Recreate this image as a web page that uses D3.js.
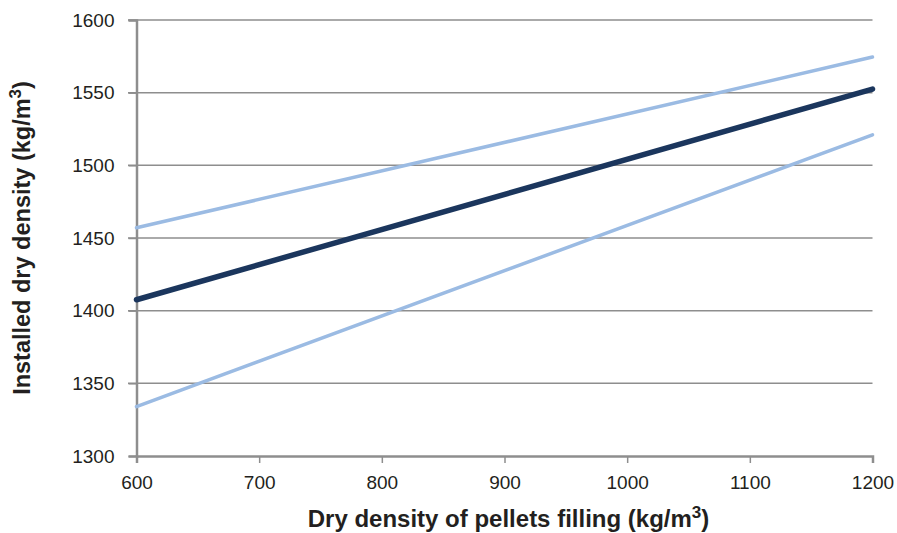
<!DOCTYPE html>
<html><head><meta charset="utf-8">
<script src="https://cdn.jsdelivr.net/npm/d3@7"></script>
<style>body{margin:0;background:#fff}svg{display:block}text{font-family:"Liberation Sans",Arial,sans-serif;fill:#231f20}</style>
</head><body><svg id="c" width="897" height="533"></svg>
<script>
const xTicks = [600,700,800,900,1000,1100,1200];
const yTicks = [1300,1350,1400,1450,1500,1550,1600];
const xValues = [600, 1200];
const upperSeries = [1457, 1574.5];
const meanSeries = [1407.5, 1552.5];
const lowerSeries = [1334, 1521];
const xTitle = "Dry density of pellets filling (kg/m";
const yTitle = "Installed dry density (kg/m";

const svg = d3.select("#c");
const x = d3.scaleLinear().domain([600,1200]).range([136.5,872.5]);
const y = d3.scaleLinear().domain([1300,1600]).range([456,20]);
const grid = "#8e8e8e";

svg.append("g").selectAll("line").data(yTicks.filter(d=>d>1300)).join("line")
  .attr("x1",128).attr("x2",x(1200)).attr("y1",d=>y(d)).attr("y2",d=>y(d))
  .attr("stroke",grid).attr("stroke-width",1.5);

const ya = svg.append("g").attr("transform",`translate(${x(600)},0)`)
  .call(d3.axisLeft(y).tickValues(yTicks).tickSize(8).tickPadding(14).tickFormat(d3.format("d")));
ya.select(".domain").attr("stroke",grid).attr("stroke-width",2.5);
ya.selectAll(".tick line").attr("stroke",grid).attr("stroke-width",1.5);
ya.selectAll(".tick text").attr("font-size",19).attr("fill","#231f20").attr("font-family","Liberation Sans, Arial");

const xa = svg.append("g").attr("transform",`translate(0,${y(1300)})`)
  .call(d3.axisBottom(x).tickValues(xTicks).tickSize(7).tickPadding(13).tickFormat(d3.format("d")));
xa.select(".domain").attr("stroke",grid).attr("stroke-width",2.5);
xa.selectAll(".tick line").attr("stroke",grid).attr("stroke-width",1.5);
xa.selectAll(".tick text").attr("font-size",19).attr("fill","#231f20").attr("font-family","Liberation Sans, Arial");

const line = d3.line().x(d=>x(d[0])).y(d=>y(d[1]));
const mk = s => xValues.map((v,i)=>[v,s[i]]);
svg.append("path").attr("d",line(mk(upperSeries))).attr("fill","none").attr("stroke","#9bbbe3").attr("stroke-width",3.5).attr("stroke-linecap","round");
svg.append("path").attr("d",line(mk(lowerSeries))).attr("fill","none").attr("stroke","#9bbbe3").attr("stroke-width",3.5).attr("stroke-linecap","round");
svg.append("path").attr("d",line(mk(meanSeries))).attr("fill","none").attr("stroke","#1b365d").attr("stroke-width",5.5).attr("stroke-linecap","round");

const xt = svg.append("text").attr("x",(x(600)+x(1200))/2+4).attr("y",527).attr("text-anchor","middle")
  .attr("font-size",24).attr("font-weight","bold");
xt.append("tspan").text(xTitle);
xt.append("tspan").attr("dy",-9).attr("font-size",17).text("3");
xt.append("tspan").attr("dy",9).text(")");

const yt = svg.append("text").attr("transform",`translate(30,${(y(1300)+y(1600))/2}) rotate(-90)`).attr("text-anchor","middle")
  .attr("font-size",23.5).attr("font-weight","bold");
yt.append("tspan").text(yTitle);
yt.append("tspan").attr("dy",-9).attr("font-size",17).text("3");
yt.append("tspan").attr("dy",9).text(")");
</script></body></html>
